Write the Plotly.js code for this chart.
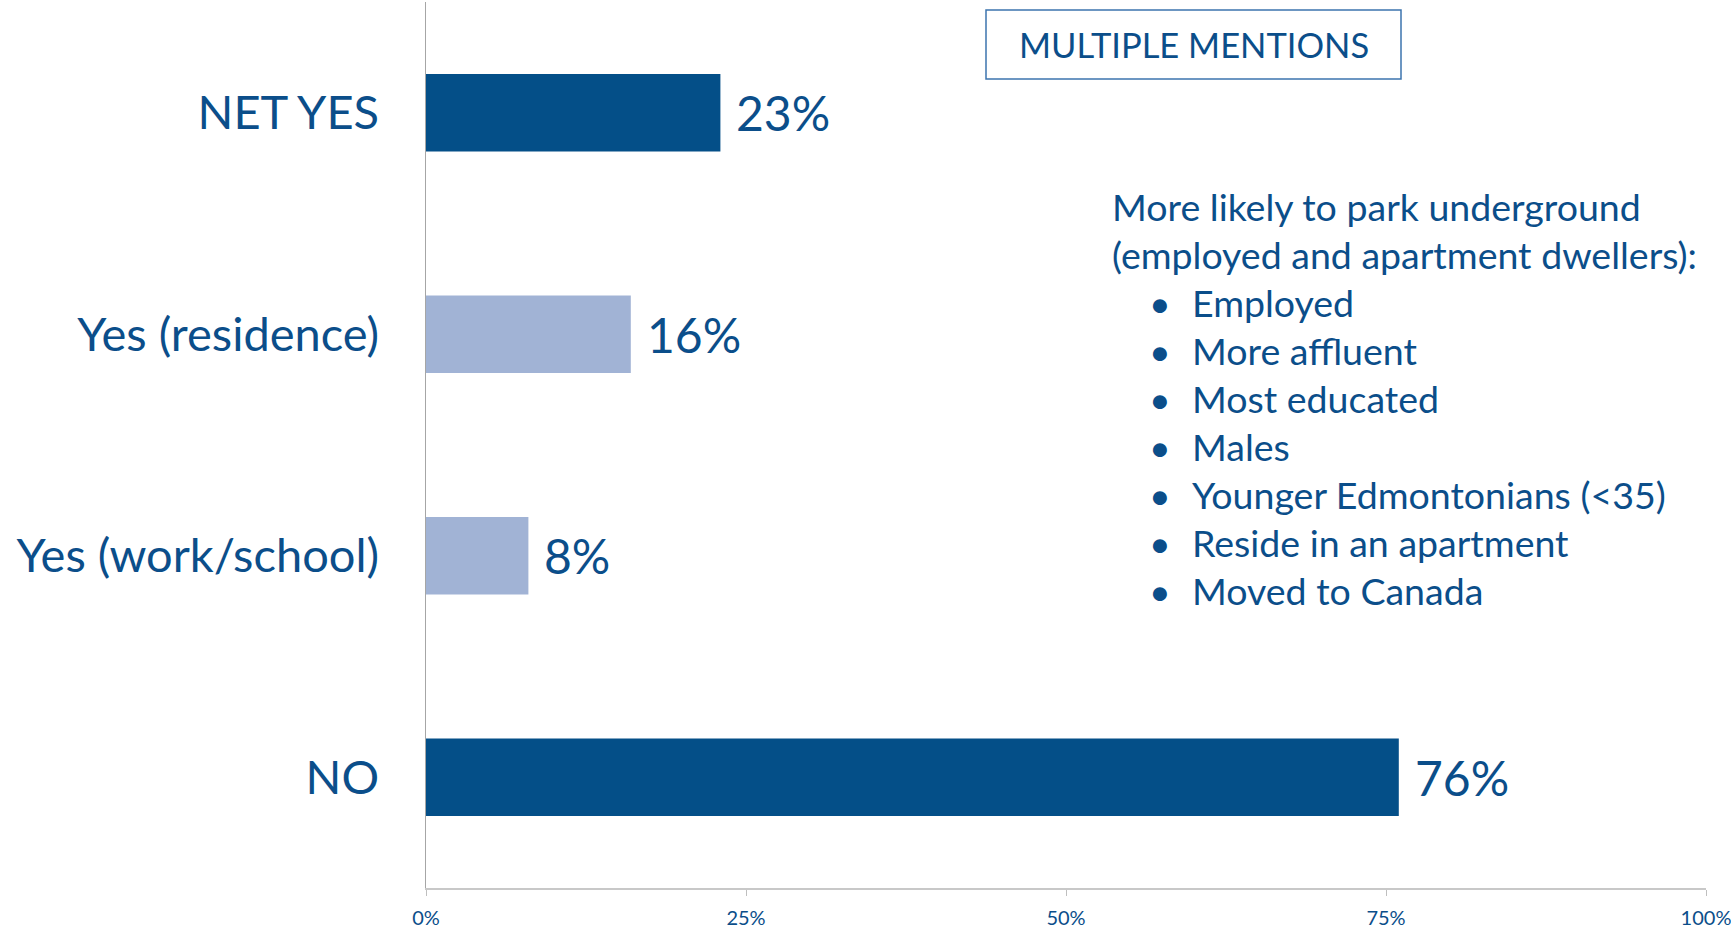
<!DOCTYPE html>
<html>
<head>
<meta charset="utf-8">
<script src="https://cdn.plot.ly/plotly-3.0.1.min.js"></script>
<style>
  html, body { margin: 0; padding: 0; background: #ffffff; }
  #chart { width: 1731px; height: 929px; }
</style>
</head>
<body>
<div id="chart"></div>
<script>
// ---- data ----
const categories = ['NET YES', 'Yes (residence)', 'Yes (work/school)', 'NO'];
const values = [23, 16, 8, 76];
const barColors = ['#044F88', '#A1B3D5', '#A1B3D5', '#044F88'];
const xTickVals = [0, 25, 50, 75, 100];
const xTickText = ['0%', '25%', '50%', '75%', '100%'];
const boxLabel = 'MULTIPLE MENTIONS';
const noteHeader = ['More likely to park underground', '(employed and apartment dwellers):'];
const noteBullets = ['Employed', 'More affluent', 'Most educated', 'Males',
  'Younger Edmontonians (<35)', 'Reside in an apartment', 'Moved to Canada'];

// ---- style ----
const FONT = 'Lato, "Open Sans", sans-serif';
const TXT = '#0B4E8A';
const W = 1731, H = 929;
const M = {l: 426, r: 25, t: 2, b: 41};
const plotW = W - M.l - M.r, plotH = H - M.t - M.b;
const px2x = p => (p - M.l) / plotW;
const py2y = p => (H - M.b - p) / plotH;

const trace = {
  type: 'bar',
  orientation: 'h',
  y: categories,
  x: values,
  width: 0.35,
  marker: {color: barColors, line: {width: 0}},
  hoverinfo: 'skip',
  showlegend: false
};

const annotations = [];
// value labels
values.forEach((v, i) => {
  annotations.push({
    x: v, y: categories[i], xref: 'x', yref: 'y',
    text: v + '%', showarrow: false,
    xanchor: 'left', yanchor: 'middle', xshift: 14, yshift: 0,
    font: {family: FONT, size: 48, color: TXT}
  });
});
// box label
annotations.push({
  x: px2x(1193.5), y: py2y(44.5), xref: 'paper', yref: 'paper',
  text: boxLabel, showarrow: false, xanchor: 'center', yanchor: 'middle',
  font: {family: FONT, size: 34.5, color: TXT}
});
// note
const NOTE = 37.5;
const lineStep = 48, firstLine = 206.5;
noteHeader.forEach((t, i) => {
  annotations.push({
    x: px2x(1110), y: py2y(firstLine + i * lineStep), xref: 'paper', yref: 'paper',
    text: t, showarrow: false, xanchor: 'left', yanchor: 'middle',
    font: {family: FONT, size: NOTE, color: TXT}
  });
});
noteBullets.forEach((t, i) => {
  const py = firstLine + (i + noteHeader.length) * lineStep;
  annotations.push({
    x: px2x(1160), y: py2y(py), xref: 'paper', yref: 'paper',
    text: '•', showarrow: false, xanchor: 'center', yanchor: 'middle',
    font: {family: FONT, size: NOTE, color: TXT}
  });
  annotations.push({
    x: px2x(1190), y: py2y(py), xref: 'paper', yref: 'paper',
    text: t, showarrow: false, xanchor: 'left', yanchor: 'middle',
    font: {family: FONT, size: NOTE, color: TXT}
  });
});

const layout = {
  width: W, height: H,
  margin: M,
  paper_bgcolor: '#ffffff',
  plot_bgcolor: '#ffffff',
  showlegend: false,
  font: {family: FONT, color: TXT},
  xaxis: {
    range: [0, 100],
    tickvals: xTickVals,
    ticktext: xTickText,
    ticks: 'outside', ticklen: 6, tickcolor: '#BFBFBF', tickwidth: 1,
    ticklabelstandoff: 5,
    ticklabeloverflow: 'allow',
    showgrid: false, zeroline: false,
    showline: true, linecolor: '#C8C8C8', linewidth: 1.5,
    tickfont: {family: FONT, size: 20, color: TXT},
    fixedrange: true
  },
  yaxis: {
    categoryorder: 'array',
    categoryarray: categories,
    autorange: 'reversed',
    range: [3.5, -0.5],
    showgrid: false, zeroline: false,
    showline: true, linecolor: '#A6A6A6', linewidth: 1.5,
    ticks: '',
    ticklabelstandoff: 36,
    ticklabeloverflow: 'allow',
    tickfont: {family: FONT, size: 47, color: TXT},
    fixedrange: true
  },
  shapes: [{
    type: 'rect', xref: 'paper', yref: 'paper',
    x0: px2x(986), x1: px2x(1401), y0: py2y(79), y1: py2y(10),
    line: {color: '#3C74AE', width: 1.5}, fillcolor: 'rgba(0,0,0,0)'
  }],
  annotations: annotations
};

Plotly.newPlot('chart', [trace], layout, {displayModeBar: false, staticPlot: true});
</script>
</body>
</html>
